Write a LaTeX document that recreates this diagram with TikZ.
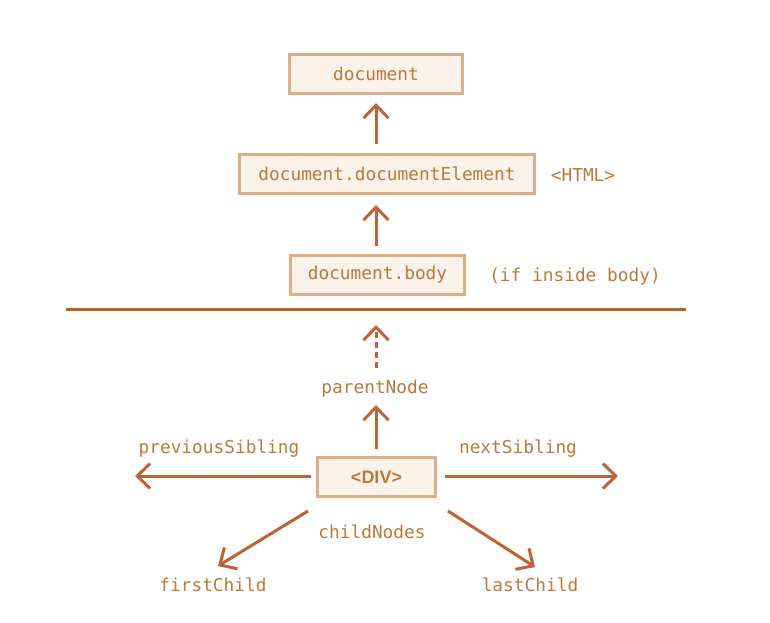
\documentclass[tikz,border=0pt]{standalone}
\usepackage{fontspec}
\setmonofont{DejaVu Sans Mono}
\newfontfamily\divfont{Liberation Sans}
\usetikzlibrary{arrows.meta}
\definecolor{txtc}{RGB}{185,122,60}
\definecolor{arrc}{RGB}{192,98,56}
\definecolor{linec}{RGB}{180,100,30}
\definecolor{boxfill}{RGB}{251,242,234}
\definecolor{boxdraw}{RGB}{222,174,136}
\tikzset{
  box/.style={draw=boxdraw, fill=boxfill, line width=3pt, minimum height=39pt, inner sep=0pt, text=txtc, font=\ttfamily\fontsize{17.8}{20}\selectfont},
  lbl/.style={inner sep=0pt, text=txtc, font=\ttfamily\fontsize{17.8}{20}\selectfont},
  arr/.style={draw=arrc, line width=3pt, -{Straight Barb[length=13pt,width=25pt,line width=3pt]}},
}
\begin{document}
\begin{tikzpicture}[x=1pt,y=-1pt]
\useasboundingbox (0,0) rectangle (770,622);
\node[box, minimum width=173pt] (doc) at (376,74) {document};
\node[box, minimum width=295pt] (docel) at (387,174) {document.documentElement};
\node[box, minimum width=174pt] (body) at (377.5,275) {document.body};
\node[lbl] (html) at (583,175) {<HTML>};
\node[lbl] (inside) at (575,277) {(if inside body)};
\coordinate (hl) at (66,309);
\coordinate (hr) at (686,309);
\draw[draw=linec, line width=3pt] (hl) -- (hr);
\node[box, minimum width=118pt, font=\divfont\bfseries\fontsize{18}{20}\selectfont] (div) at (376.5,477) {<DIV>};
\node[lbl] (parent) at (375,389) {parentNode};
\node[lbl] (prev) at (219,449) {previousSibling};
\node[lbl] (next) at (518,449) {nextSibling};
\node[lbl] (child) at (372,532) {childNodes};
\node[lbl] (first) at (213,585) {firstChild};
\node[lbl] (last) at (530,585) {lastChild};
\coordinate (pl) at (135,476);
\coordinate (pr) at (618,476);
\coordinate (fl) at (218,566);
\coordinate (lr) at (535,567);
\draw[arr] (376,144) -- (376,103);
\draw[arr] (376,246) -- (376,205);
\draw[arr] (376,449) -- (376,405);
\draw[arr, dash pattern=on 6pt off 4pt] (376,368) -- (376,325);
\draw[arr] (311,476) -- (pl);
\draw[arr] (445,476) -- (pr);
\draw[arr] (308,511) -- (fl);
\draw[arr] (448,511) -- (lr);
\end{tikzpicture}
\end{document}
